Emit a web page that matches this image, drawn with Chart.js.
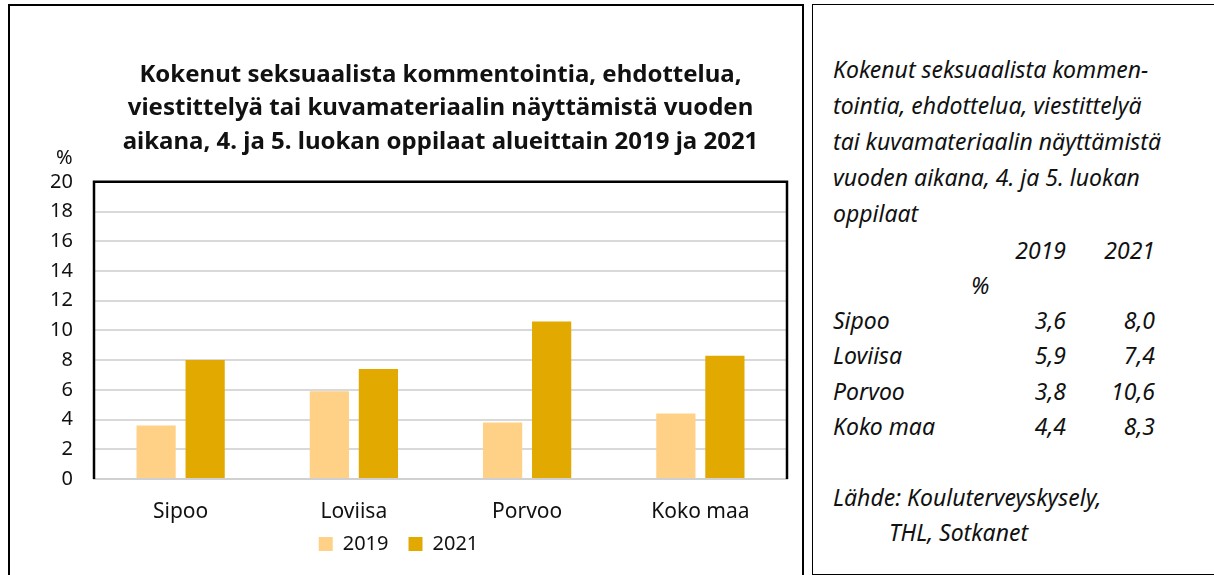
<!DOCTYPE html>
<html>
<head>
<meta charset="utf-8">
<script src="https://cdn.jsdelivr.net/npm/chart.js@4"></script>
<style>
  body { margin: 0; background: #fff; width: 1214px; height: 575px; overflow: hidden; position: relative; font-family: "Noto Sans", sans-serif; }
  #vasen { position: absolute; left: 8px; top: 4px; width: 796px; height: 600px; border: 2px solid #000; box-sizing: border-box; }
  #kaavio { position: absolute; left: 10px; top: 6px; width: 794px; height: 569px; }
  #pros { position: absolute; left: 56px; top: 144px; font-size: 20px; line-height: 26px; color: #111; }
  #oikea { position: absolute; left: 812px; top: 4px; width: 410px; height: 571px; border: 1px solid #000; box-sizing: border-box; }
  .rivi { position: absolute; left: 20px; font-style: italic; font-size: 23px; line-height: 25px; color: #111; white-space: nowrap; }
  .arvo { position: absolute; font-style: italic; font-size: 23px; line-height: 25px; color: #111; text-align: right; width: 70px; }
</style>
</head>
<body>
<div id="vasen"></div>
<div id="kaavio"><canvas id="myChart"></canvas></div>
<div id="pros">%</div>
<div id="oikea"></div>

<script>
// data
var alueet = ["Sipoo", "Loviisa", "Porvoo", "Koko maa"];
var vuodet = ["2019", "2021"];
var arvot2019 = [3.6, 5.9, 3.8, 4.4];
var arvot2021 = [8.0, 7.4, 10.6, 8.3];
var yTicks = [0, 2, 4, 6, 8, 10, 12, 14, 16, 18, 20];

var otsikko = [
    "Kokenut seksuaalista kommentointia, ehdottelua,",
    "viestittelyä tai kuvamateriaalin näyttämistä vuoden",
    "aikana, 4. ja 5. luokan oppilaat alueittain 2019 ja 2021"
];

var fontti = "'Noto Sans', sans-serif";

// plot frame: black top/left/right, grey bottom axis
var kehys = {
    id: "kehys",
    afterDraw: function (chart) {
        var a = chart.chartArea;
        var ctx = chart.ctx;
        ctx.save();
        ctx.strokeStyle = "#000";
        ctx.lineWidth = 2.5;
        ctx.beginPath();
        ctx.moveTo(a.left, a.bottom);
        ctx.lineTo(a.left, a.top);
        ctx.lineTo(a.right, a.top);
        ctx.lineTo(a.right, a.bottom);
        ctx.stroke();
        ctx.restore();
    }
};

var ctx = document.getElementById("myChart").getContext("2d");

var myChart = new Chart(ctx, {
    type: "bar",
    data: {
        labels: alueet,
        datasets: [
            { label: vuodet[0], data: arvot2019, backgroundColor: "#FFD186" },
            { label: vuodet[1], data: arvot2021, backgroundColor: "#E2AA00" }
        ]
    },
    options: {
        responsive: true,
        maintainAspectRatio: false,
        animation: false,
        categoryPercentage: 0.566,
        barPercentage: 0.8,
        layout: { padding: { left: 0, right: 17, top: 0, bottom: 11 } },
        scales: {
            x: {
                grid: { display: false, drawTicks: false },
                border: { color: "#D0D0D0", width: 2 },
                afterFit: function (scale) { scale.height = 45; },
                ticks: { color: "#111", font: { family: fontti, size: 21 }, padding: 20 }
            },
            y: {
                min: 0,
                max: 20,
                afterBuildTicks: function (scale) {
                    scale.ticks = yTicks.map(function (v) { return { value: v }; });
                },
                afterFit: function (scale) { scale.width = 84; },
                grid: { color: "#D9D9D9", lineWidth: 2, drawTicks: false },
                border: { display: false },
                ticks: { color: "#111", font: { family: fontti, size: 20 }, padding: 21 }
            }
        },
        plugins: {
            title: {
                display: true,
                fullSize: false,
                text: otsikko,
                color: "#111",
                font: { family: fontti, size: 24, weight: "bold", lineHeight: 1.4 },
                padding: { top: 52, bottom: 23 }
            },
            legend: {
                position: "bottom",
                labels: {
                    color: "#111",
                    boxWidth: 14,
                    boxHeight: 14,
                    font: { family: fontti, size: 20 },
                    padding: 10,
                    // a bit more room between the two items
                    generateLabels: function (chart) {
                        var items = Chart.defaults.plugins.legend.labels.generateLabels(chart);
                        items[0].text = items[0].text + "\u2002";
                        return items;
                    }
                }
            },
            tooltip: { enabled: false }
        }
    },
    plugins: [kehys]
});

// oikea paneeli: teksti ja taulukko samoista taulukoista
var oikea = document.getElementById("oikea");
var muoto = function (v) { return v.toFixed(1).replace(".", ","); };
var lisaa = function (teksti, y, luokka, x) {
    var d = document.createElement("div");
    d.className = luokka;
    d.textContent = teksti;
    d.style.top = y + "px";
    if (x !== undefined) d.style.left = x + "px";
    oikea.appendChild(d);
};

var johdanto = [
    "Kokenut seksuaalista kommen-",
    "tointia, ehdottelua, viestittelyä",
    "tai kuvamateriaalin näyttämistä",
    "vuoden aikana, 4. ja 5. luokan",
    "oppilaat"
];
johdanto.forEach(function (t, i) { lisaa(t, 52 + i * 36, "rivi"); });

lisaa(vuodet[0], 233, "arvo", 183);
lisaa(vuodet[1], 233, "arvo", 272);
lisaa("%", 268, "rivi", 158);

alueet.forEach(function (a, i) {
    var y = 303 + i * 35.3;
    lisaa(a, y, "rivi");
    lisaa(muoto(arvot2019[i]), y, "arvo", 183);
    lisaa(muoto(arvot2021[i]), y, "arvo", 272);
});

lisaa("Lähde: Kouluterveyskysely,", 480, "rivi");
lisaa("THL, Sotkanet", 515, "rivi", 76);
</script>
</body>
</html>
